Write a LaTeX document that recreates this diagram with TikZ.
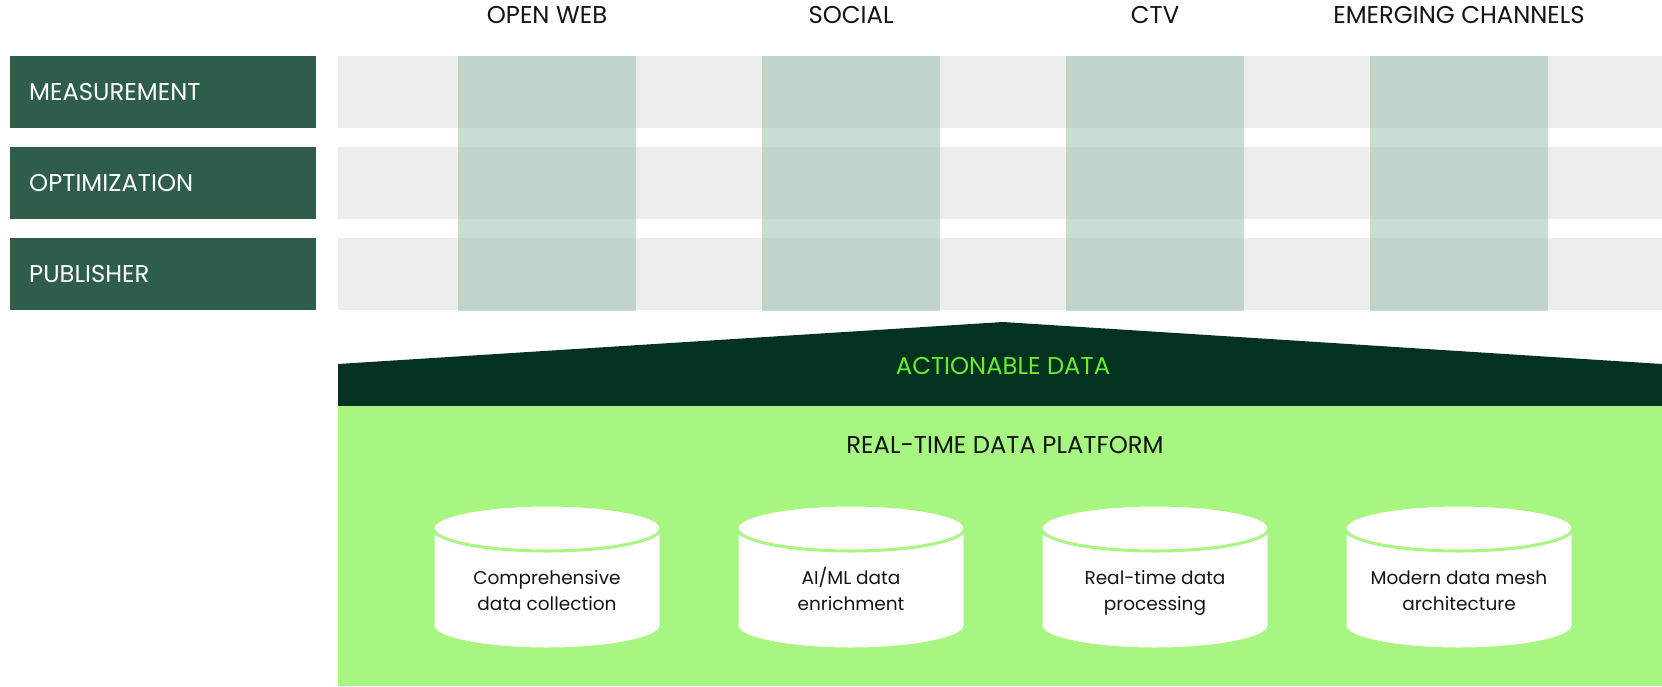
\documentclass[tikz,border=0pt]{standalone}
\usepackage{fontspec}
\setmainfont{Poppins}
\definecolor{rowbox}{RGB}{46,94,74}
\definecolor{rowgray}{RGB}{237,237,237}
\definecolor{colgreen}{RGB}{150,188,167}
\definecolor{platgreen}{RGB}{167,246,130}
\definecolor{roofdark}{RGB}{3,50,32}
\definecolor{rooftext}{RGB}{104,236,44}
\definecolor{inktext}{RGB}{20,20,20}
\begin{document}
\begin{tikzpicture}[x=1pt,y=-1pt,
  rowlabel/.style={fill=rowbox, text=white, anchor=north west,
    minimum width=306pt, minimum height=72pt, inner xsep=19pt,
    text width=268pt, align=left, font=\fontsize{24.3}{28}\selectfont},
  header/.style={text=inktext, inner sep=0pt, font=\fontsize{24.3}{28}\selectfont},
  channel/.style={fill=colgreen, fill opacity=0.5},
  band/.style={fill=rowgray},
  cylbody/.style={fill=white, draw=platgreen, line width=3pt},
  cyltext/.style={text=inktext, align=center, inner sep=0pt,
    font=\fontsize{18.5}{26}\selectfont}]
\useasboundingbox (0,0) rectangle (1662,686);

% grey bands behind the channel columns
\foreach \y in {56,147,238}
  \fill[band] (338,\y) rectangle (1662,\y+72);

% row labels
\node[rowlabel] (meas) at (10,56)  {MEASUREMENT};
\node[rowlabel] (opt)  at (10,147) {OPTIMIZATION};
\node[rowlabel] (pub)  at (10,238) {PUBLISHER};

% channel columns
\foreach \cx in {547,851,1155,1459}
  \fill[channel] (\cx-89,56) rectangle (\cx+89,311);

% channel headers
\node[header] (web)    at (547,15)  {OPEN WEB};
\node[header] (social) at (851,15)  {SOCIAL};
\node[header] (ctv)    at (1155,15) {CTV};
\node[header] (emerg)  at (1459,15) {EMERGING CHANNELS};

% roof and platform
\fill[roofdark] (338,364) -- (1003,322) -- (1662,364) -- (1662,406) -- (338,406) -- cycle;
\fill[platgreen] (338,406) rectangle (1662,686);
\node[text=rooftext, font=\fontsize{24.3}{28}\selectfont] (act) at (1003,366) {ACTIONABLE DATA};
\node[text=inktext, font=\fontsize{24.3}{28}\selectfont] (rtdp) at (1005,445) {REAL-TIME DATA PLATFORM};

% data stores
\foreach \cx/\nm/\txt in {547/cylA/{Comprehensive\strut\\data collection\strut},
                          851/cylB/{AI/ML data\strut\\enrichment\strut},
                          1155/cylC/{Real-time data\strut\\processing\strut},
                          1459/cylD/{Modern data mesh\strut\\architecture\strut}}{
  \draw[cylbody] (\cx-114,528) -- (\cx-114,626)
    arc[start angle=180, end angle=0, x radius=114, y radius=23]
    -- (\cx+114,528)
    arc[start angle=0, end angle=-180, x radius=114, y radius=23] -- cycle;
  \draw[cylbody] (\cx,528) ellipse [x radius=114, y radius=23];
  \node[cyltext] (\nm) at (\cx,592) {\txt};
}
\end{tikzpicture}
\end{document}
